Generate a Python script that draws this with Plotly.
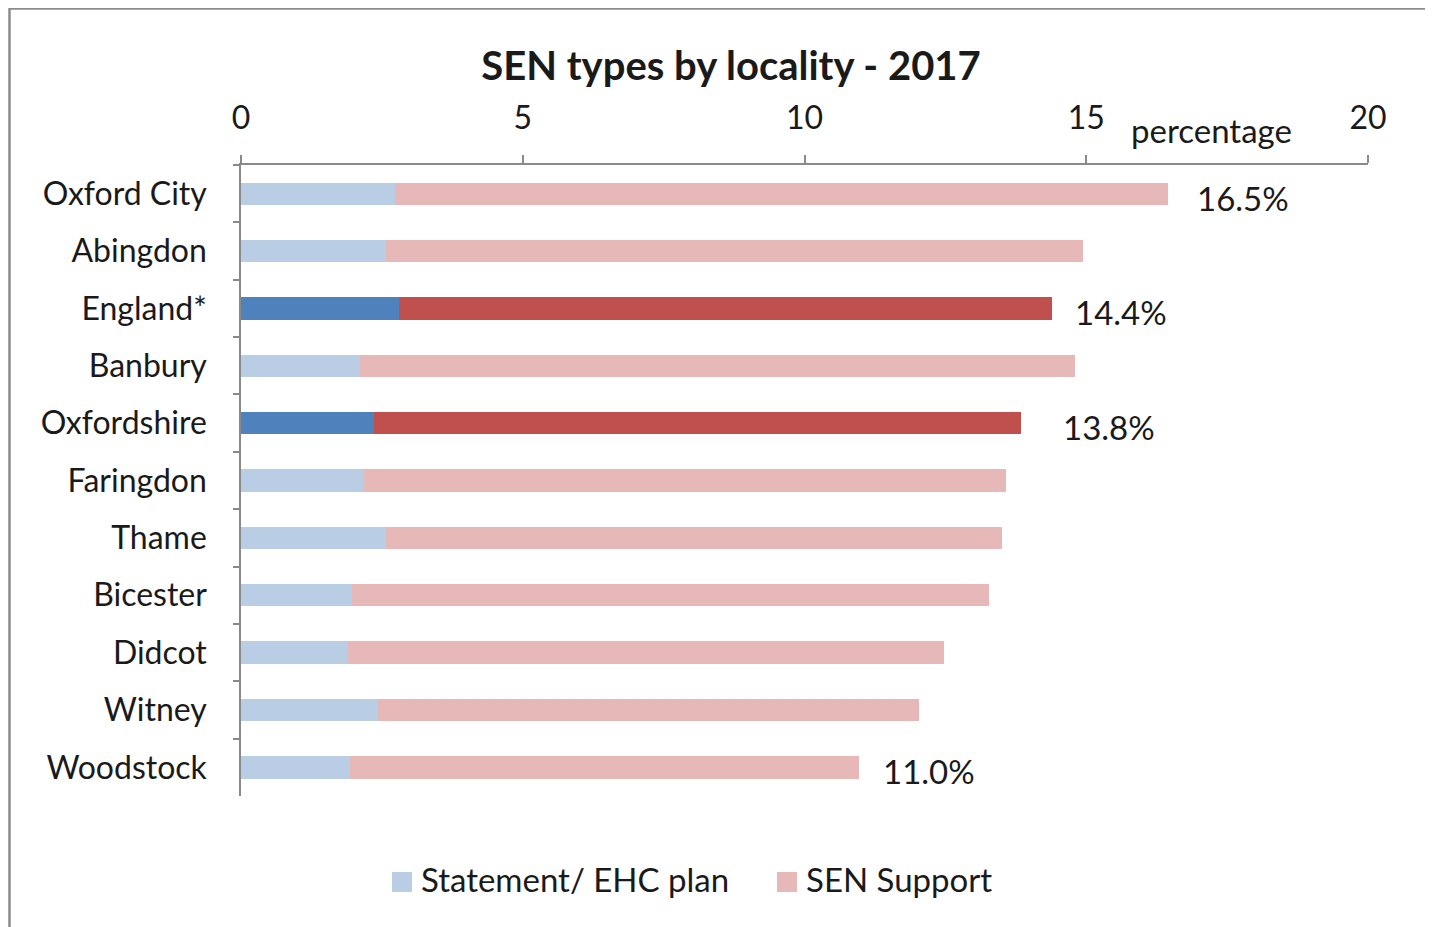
import plotly.graph_objects as go

localities = ["Oxford City", "Abingdon", "England*", "Banbury", "Oxfordshire",
              "Faringdon", "Thame", "Bicester", "Didcot", "Witney", "Woodstock"]
statement = [2.73, 2.57, 2.80, 2.11, 2.36, 2.18, 2.57, 1.97, 1.90, 2.43, 1.93]
sen_support = [13.72, 12.37, 11.60, 12.69, 11.49, 11.40, 10.93, 11.30, 10.58, 9.60, 9.04]
highlight = [False, False, True, False, True, False, False, False, False, False, False]
total_labels = {"Oxford City": "16.5%", "England*": "14.4%",
                "Oxfordshire": "13.8%", "Woodstock": "11.0%"}
x_ticks = [0, 5, 10, 15, 20]
series_names = ["Statement/ EHC plan", "SEN Support"]

LIGHT_BLUE, DARK_BLUE = "#B9CDE5", "#4F81BD"
LIGHT_RED, DARK_RED = "#E6B9B8", "#C0504D"
FONT = "Lato, 'Open Sans', sans-serif"
GREY = "#898989"
TXT = "#1a1a1a"

# page body has an 8px margin; figure coordinates are offset by it
W, H = 1425, 919
L, T, PW, PH = 233, 157, 1127, 631


def px(xf):
    return (xf - L) / PW


def py(yf):
    return 1 - (yf - T) / PH


fig = go.Figure()
fig.add_trace(go.Bar(
    y=localities, x=statement, orientation="h", name=series_names[0],
    marker=dict(color=[DARK_BLUE if h else LIGHT_BLUE for h in highlight], line=dict(width=0)),
    showlegend=False,
))
fig.add_trace(go.Bar(
    y=localities, x=sen_support, orientation="h", name=series_names[1],
    marker=dict(color=[DARK_RED if h else LIGHT_RED for h in highlight], line=dict(width=0)),
    showlegend=False,
))

shifts = {"Oxford City": 27, "England*": 21, "Oxfordshire": 40, "Woodstock": 22}
for loc, s, p in zip(localities, statement, sen_support):
    if loc in total_labels:
        fig.add_annotation(x=s + p, y=loc, text=total_labels[loc], showarrow=False,
                           xanchor="left", yanchor="middle", xshift=shifts[loc], yshift=-4,
                           font=dict(family=FONT, size=33, color=TXT))

fig.add_annotation(text="percentage", xref="paper", yref="paper",
                   x=px(1203), y=py(122),
                   xanchor="center", yanchor="middle", showarrow=False,
                   font=dict(family=FONT, size=33, color=TXT))

# legend (square swatches + labels)
legend_items = [(series_names[0], LIGHT_BLUE, 384), (series_names[1], LIGHT_RED, 769)]
for name, col, x0 in legend_items:
    fig.add_shape(type="rect", xref="paper", yref="paper",
                  x0=px(x0), x1=px(x0 + 20), y0=py(884), y1=py(864),
                  line=dict(width=0), fillcolor=col)
    fig.add_annotation(text=name, xref="paper", yref="paper", x=px(x0 + 27), y=py(871),
                       xanchor="left", yanchor="middle", showarrow=False,
                       font=dict(family=FONT, size=33, color=TXT))

# outer chart border
fig.add_shape(type="rect", xref="paper", yref="paper",
              x0=px(1.5), x1=px(1445), y0=py(940), y1=py(0.5),
              line=dict(color="#8c8c8c", width=2.5), fillcolor="rgba(0,0,0,0)", layer="below")

fig.update_layout(
    barmode="stack",
    bargap=0.61,
    width=W, height=H,
    margin=dict(l=L, r=W - L - PW, t=T, b=H - T - PH),
    paper_bgcolor="white", plot_bgcolor="white",
    title=dict(text="<b>SEN types by locality - 2017</b>", x=723 / W, xanchor="center",
               y=1 - 58 / H, yanchor="middle",
               font=dict(family=FONT, size=40, color=TXT)),
    font=dict(family=FONT, size=32, color=TXT),
    showlegend=False,
    xaxis=dict(side="top", range=[0, 20], tickvals=x_ticks, ticktext=[str(v) for v in x_ticks],
               showgrid=False, zeroline=False, showline=True, linecolor=GREY, linewidth=1.5,
               ticks="outside", ticklen=8, tickcolor=GREY, tickwidth=1.5,
               ticklabelstandoff=13,
               tickfont=dict(family=FONT, size=32, color=TXT)),
    yaxis=dict(categoryorder="array", categoryarray=localities, autorange="reversed",
               showgrid=False, zeroline=False, showline=True, linecolor=GREY, linewidth=1.5,
               ticks="outside", ticklen=6, tickcolor=GREY, tickwidth=1.5, tickson="boundaries",
               ticklabelstandoff=26,
               tickfont=dict(family=FONT, size=32, color=TXT)),
)

fig.write_html("out.html")
